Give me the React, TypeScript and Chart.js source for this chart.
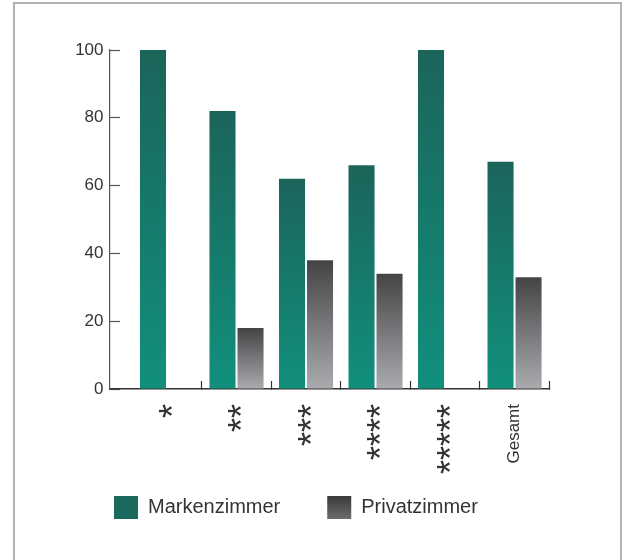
import React, { useEffect, useRef } from 'react';
import { Chart, registerables } from 'chart.js';

Chart.register(...registerables);

const categories = ['*', '**', '***', '****', '*****', 'Gesamt'];
const seriesNames = ['Markenzimmer', 'Privatzimmer'];
const markenzimmer = [100, 82, 62, 66, 100, 67];
const privatzimmer = [0, 18, 38, 34, 0, 33];
const yTickValues = [0, 20, 40, 60, 80, 100];
const categoryBoundaries = [1, 2, 3, 4, 5, 6];

const FONT = "'Liberation Sans', Arial, sans-serif";
const TEXT = '#333333';

function barGradient(top: string, bottom: string, fallback: string) {
  return (ctx: any) => {
    const chart = ctx.chart;
    const yScale = chart.scales && chart.scales.y;
    if (ctx.type !== 'data' || !yScale || !ctx.raw) return fallback;
    const y0 = yScale.getPixelForValue(0);
    const y1 = yScale.getPixelForValue(ctx.raw.y);
    if (!isFinite(y0) || !isFinite(y1) || y0 === y1) return fallback;
    const g = chart.ctx.createLinearGradient(0, y1, 0, y0);
    g.addColorStop(0, top);
    g.addColorStop(1, bottom);
    return g;
  };
}

const isStars = (i: number) => /^\*+$/.test(categories[i] || '');

// lets the rotated x labels run below the axis box without being clipped
const labelRoom = {
  id: 'labelRoom',
  afterLayout(chart: any) {
    const xs = chart.scales.x;
    if (xs) xs.bottom = xs.top + 100;
  },
};

export default function App() {
  const ref = useRef<HTMLCanvasElement | null>(null);

  useEffect(() => {
    const canvas = ref.current;
    if (!canvas) return;
    const chart = new Chart(canvas, {
      type: 'bar',
      data: {
        datasets: [
          {
            label: seriesNames[0],
            data: categories.map((c, i) => ({ x: i + 0.5, y: markenzimmer[i] })),
            backgroundColor: barGradient('#1b645a', '#11907c', '#177a6b'),
            borderWidth: 0,
          },
          {
            label: seriesNames[1],
            data: categories.map((c, i) => ({ x: i + 0.5, y: privatzimmer[i] })),
            backgroundColor: barGradient('#444446', '#aaabaf', '#777779'),
            borderWidth: 0,
          },
        ],
      },
      options: {
        responsive: false,
        devicePixelRatio: 1,
        animation: false,
        categoryPercentage: 0.806,
        barPercentage: 0.93,
        layout: { padding: { left: 67, right: 79.7, top: 50, bottom: 31 } },
        plugins: {
          tooltip: { enabled: false },
          title: { display: false },
          legend: {
            display: true,
            position: 'bottom',
            align: 'start',
            labels: {
              boxWidth: 24,
              boxHeight: 23,
              padding: 47,
              color: TEXT,
              font: { family: FONT, size: 20 },
              generateLabels: (ch: any) => {
                const lg = ch.legend;
                let gray: any = '#505052';
                if (lg && isFinite(lg.top)) {
                  const t = lg.top + 47;
                  const g = ch.ctx.createLinearGradient(0, t, 0, t + 23);
                  g.addColorStop(0, '#3a3a3c');
                  g.addColorStop(1, '#6c6c6f');
                  gray = g;
                }
                return seriesNames.map((name, i) => ({
                  text: name,
                  fillStyle: i === 0 ? '#1b6a5f' : gray,
                  strokeStyle: 'rgba(0,0,0,0)',
                  lineWidth: 0,
                  hidden: false,
                  datasetIndex: i,
                  fontColor: TEXT,
                }));
              },
            },
          },
        },
        scales: {
          x: {
            type: 'linear',
            offset: false,
            min: -0.32,
            max: 6,
            afterBuildTicks: (scale: any) => {
              scale.ticks = categoryBoundaries.map((v) => ({ value: v }));
            },
            afterFit: (scale: any) => {
              scale.height = 60;
            },
            grid: {
              display: true,
              offset: false,
              drawOnChartArea: false,
              drawTicks: true,
              tickLength: -8,
              tickColor: '#333333',
              tickWidth: 1.2,
            },
            border: { display: true, color: '#333333', width: 1.6 },
            ticks: {
              autoSkip: false,
              minRotation: 90,
              maxRotation: 90,
              padding: 23,
              labelOffset: -34.73,
              color: TEXT,
              callback: (value: any, index: number) => categories[index],
              font: (ctx: any) =>
                isStars(ctx.index)
                  ? { family: FONT, size: 36, lineHeight: '16px' }
                  : { family: FONT, size: 17 },
              showLabelBackdrop: (ctx: any) => isStars(ctx.index),
              backdropColor: 'rgba(0,0,0,0)',
            },
          },
          y: {
            type: 'linear',
            min: 0,
            max: 100,
            afterBuildTicks: (scale: any) => {
              scale.ticks = yTickValues.map((v) => ({ value: v }));
            },
            afterFit: (scale: any) => {
              scale.width = 43;
            },
            grid: {
              display: true,
              drawOnChartArea: false,
              drawTicks: true,
              tickLength: -10,
              tickColor: '#555555',
              tickWidth: 1.2,
            },
            border: { display: true, color: '#555555', width: 1.2 },
            ticks: {
              padding: 16.5,
              color: TEXT,
              font: { family: FONT, size: 17 },
            },
          },
        },
      },
      plugins: [labelRoom],
    } as any);
    return () => chart.destroy();
  }, []);

  return (
    <div style={{ position: 'absolute', left: 0, top: 0, width: 629, height: 560, background: '#ffffff' }}>
      <div
        style={{
          position: 'absolute',
          left: 13,
          top: 2,
          width: 609,
          height: 558,
          boxSizing: 'border-box',
          border: '2px solid #b3b3b3',
          borderBottom: 'none',
        }}
      />
      <canvas
        ref={ref}
        width={629}
        height={560}
        style={{ position: 'absolute', left: 0, top: 0, width: 629, height: 560 }}
      />
    </div>
  );
}
